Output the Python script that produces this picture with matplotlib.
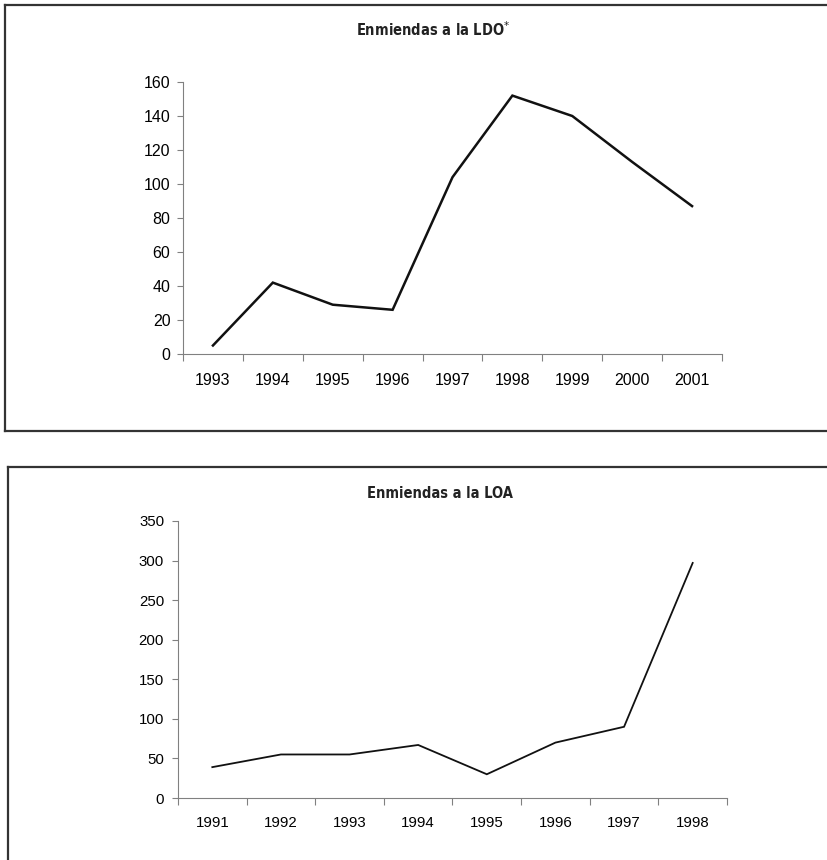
import matplotlib
matplotlib.use("Agg")
import matplotlib.pyplot as plt
from matplotlib.lines import Line2D
from matplotlib import font_manager as fm
import numpy as np

# Data
ldo_years = ["1993", "1994", "1995", "1996", "1997", "1998", "1999", "2000", "2001"]
ldo_values = [5, 42, 29, 26, 104, 152, 140, 113, 87]
ldo_yticks = [0, 20, 40, 60, 80, 100, 120, 140, 160]

loa_years = ["1991", "1992", "1993", "1994", "1995", "1996", "1997", "1998"]
loa_values = [39, 55, 55, 67, 30, 70, 90, 297]
loa_yticks = [0, 50, 100, 150, 200, 250, 300, 350]

W, H = 828, 860
fig = plt.figure(figsize=(W / 100, H / 100), dpi=100)
fig.patch.set_facecolor("white")

tick_font = ["Liberation Sans", "DejaVu Sans"]
installed = {f.name for f in fm.fontManager.ttflist}
if "Liberation Sans Narrow" in installed:
    title_kw = dict(fontfamily="Liberation Sans Narrow", fontweight="bold", fontsize=12.5)
else:
    title_kw = dict(fontfamily="DejaVu Sans", fontstretch="condensed", fontweight="bold", fontsize=10.5)
axis_gray = "#808080"


def px_axes(left, right, top, bottom):
    return fig.add_axes([left / W, 1 - bottom / H, (right - left) / W, (bottom - top) / H])


def style_axes(ax, labels, values, yticks, fsize, lw, xpad, ypad):
    n = len(labels)
    x = np.arange(n)
    ax.plot(x, values, color="#111111", lw=lw, solid_joinstyle="miter")
    ax.set_xlim(-0.5, n - 0.5)
    ax.set_ylim(yticks[0], yticks[-1])
    ax.set_yticks(yticks)
    ax.set_yticklabels([str(v) for v in yticks], fontfamily=tick_font, fontsize=fsize)
    ax.set_xticks(x)
    ax.set_xticklabels(labels, fontfamily=tick_font, fontsize=fsize)
    ax.set_xticks(np.arange(n + 1) - 0.5, minor=True)
    ax.tick_params(axis="x", which="major", length=0, pad=xpad)
    ax.tick_params(axis="x", which="minor", length=5, width=0.8, color=axis_gray, direction="out")
    ax.tick_params(axis="y", length=4, width=0.8, color=axis_gray, direction="out", pad=ypad)
    for s in ["top", "right"]:
        ax.spines[s].set_visible(False)
    for s in ["left", "bottom"]:
        ax.spines[s].set_color(axis_gray)
        ax.spines[s].set_linewidth(0.8)
    ax.set_facecolor("none")


# Top chart
ax1 = px_axes(183, 722, 82, 354)
style_axes(ax1, ldo_years, ldo_values, ldo_yticks, 11.5, 1.8, 14, 5)
fig.text(433 / W, 1 - 30 / H, r"Enmiendas a la LDO$^{*}$", ha="center", va="center",
         color="#222222", **title_kw)

# Bottom chart
ax2 = px_axes(178, 727, 521, 798)
style_axes(ax2, loa_years, loa_values, loa_yticks, 10.8, 1.3, 13, 6)
fig.text(440 / W, 1 - 494 / H, "Enmiendas a la LOA", ha="center", va="center",
         color="#222222", **title_kw)

# Frames
frame_kw = dict(transform=fig.transFigure, color="#333333", lw=1.6)
def fline(x0, y0, x1, y1):
    fig.add_artist(Line2D([x0 / W, x1 / W], [1 - y0 / H, 1 - y1 / H], **frame_kw))

# top frame
fline(5, 5, W + 5, 5)
fline(5, 5, 5, 431)
fline(5, 431, W + 5, 431)
# bottom frame
fline(8, 467, W + 5, 467)
fline(8, 467, 8, H + 5)

fig.savefig("out.png", dpi=100, facecolor="white")
